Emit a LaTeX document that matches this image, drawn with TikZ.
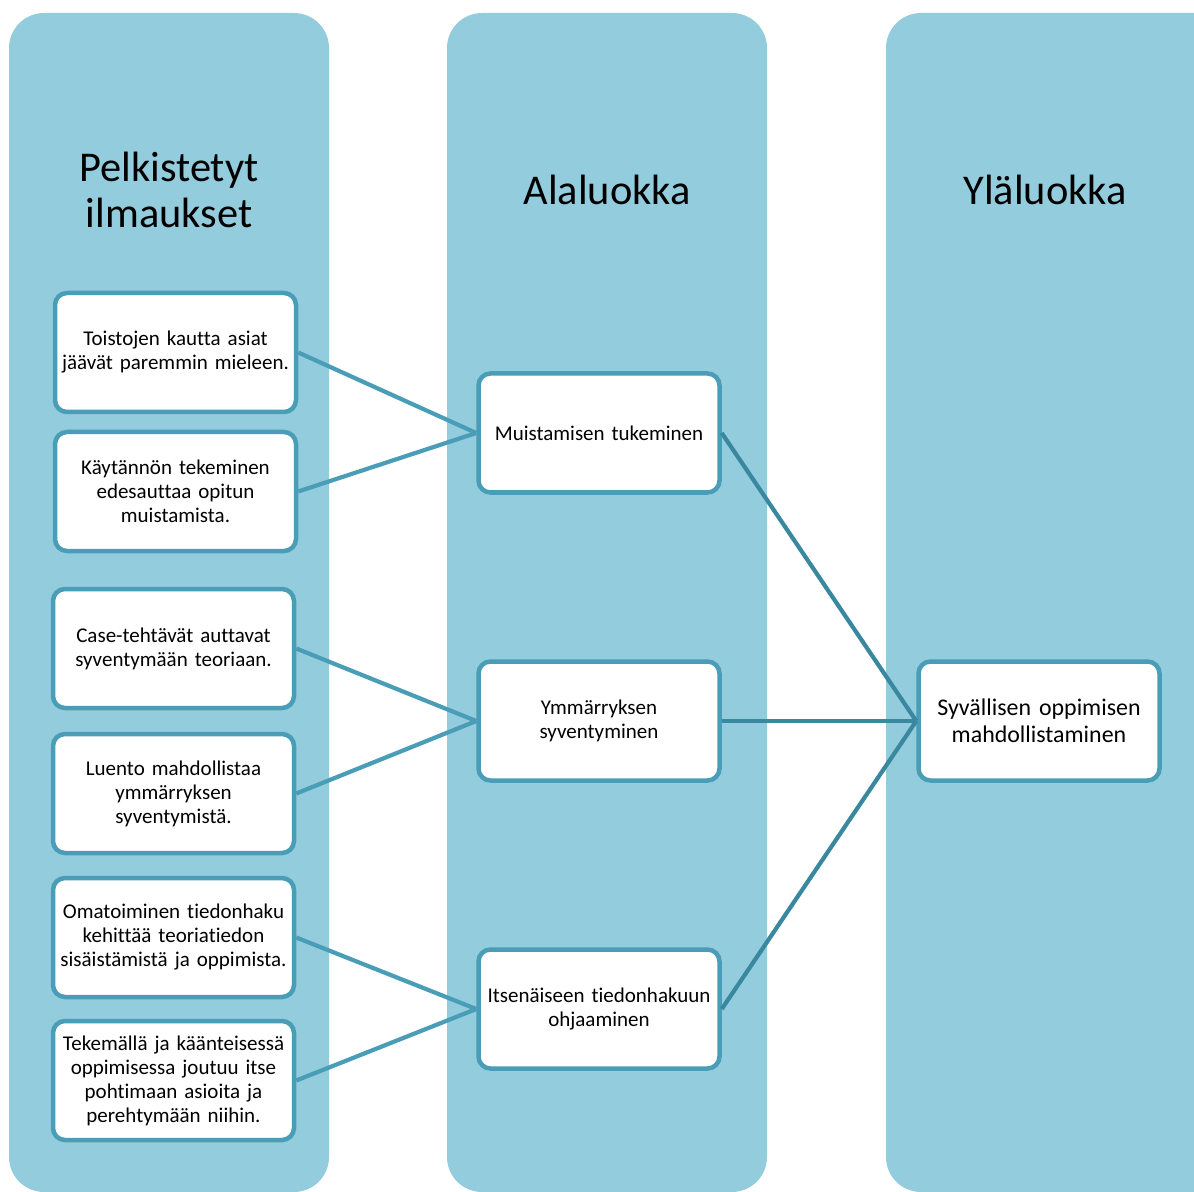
\documentclass[tikz,border=0pt]{standalone}
\usepackage{fontspec}
\setmainfont{Carlito}[Ligatures=NoCommon]
\definecolor{kolumni}{HTML}{93CCDD}
\definecolor{reuna}{HTML}{4A9DB6}
\definecolor{viiva}{HTML}{3A889F}
\tikzset{
  kolumni/.style={fill=kolumni, rounded corners=17.5pt},
  otsikko/.style={align=center, font=\fontsize{21.2}{23}\selectfont},
  laatikko/.style={draw=reuna, line width=2.25pt, fill=white, rounded corners=6pt,
    align=center, text width=114pt, inner xsep=3.25pt, minimum height=59.5pt,
    font=\fontsize{10.5}{12}\selectfont},
  yhteys/.style={draw=reuna, line width=2.1pt},
  yhteys2/.style={draw=viiva, line width=2.1pt},
}
\begin{document}
\begin{tikzpicture}[x=0.5pt,y=-0.5pt]
  \useasboundingbox (0,0) rectangle (1194,1192);
  \clip (0,0) rectangle (1194,1192);
  % kolumnit
  \fill[kolumni] (9,13) rectangle (329,1192);
  \fill[kolumni] (447,13) rectangle (767,1192);
  \fill[kolumni] (886,13) rectangle (1240,1192);
  \node[otsikko] (t1) at (169,190) {Pelkistetyt\\ilmaukset};
  \node[otsikko] (t2) at (607,190) {Alaluokka};
  \node[otsikko] (t3) at (1045,190) {Yläluokka};

  % pelkistetyt ilmaukset
  \node[laatikko] (p1) at (175.5,352.5) {Toistojen kautta asiat\\jäävät paremmin mieleen.};
  \node[laatikko] (p2) at (175.5,491.5) {Käytännön tekeminen\\edesauttaa opitun\\muistamista.};
  \node[laatikko] (p3) at (173.5,648.5) {Case-tehtävät auttavat\\syventymään teoriaan.};
  \node[laatikko] (p4) at (173.5,793.5) {Luento mahdollistaa\\ymmärryksen\\syventymistä.};
  \node[laatikko] (p5) at (173.5,937.5) {Omatoiminen tiedonhaku\\kehittää teoriatiedon\\sisäistämistä ja oppimista.};
  \node[laatikko] (p6) at (173.5,1080.5) {Tekemällä ja käänteisessä\\oppimisessa joutuu itse\\pohtimaan asioita ja\\perehtymään niihin.};

  % alaluokat
  \node[laatikko] (a1) at (599,433) {Muistamisen tukeminen};
  \node[laatikko] (a2) at (599,721) {Ymmärryksen\\syventyminen};
  \node[laatikko] (a3) at (599,1009) {Itsenäiseen tiedonhakuun\\ohjaaminen};

  % yläluokka
  \node[laatikko, font=\fontsize{11.95}{13.5}\selectfont] (y1) at (1039,721) {Syvällisen oppimisen\\mahdollistaminen};

  \draw[yhteys] (p1.east) -- (a1.west);
  \draw[yhteys] (p2.east) -- (a1.west);
  \draw[yhteys] (p3.east) -- (a2.west);
  \draw[yhteys] (p4.east) -- (a2.west);
  \draw[yhteys] (p5.east) -- (a3.west);
  \draw[yhteys] (p6.east) -- (a3.west);
  \draw[yhteys2] (a1.east) -- (y1.west);
  \draw[yhteys2] (a2.east) -- (y1.west);
  \draw[yhteys2] (a3.east) -- (y1.west);
\end{tikzpicture}
\end{document}
